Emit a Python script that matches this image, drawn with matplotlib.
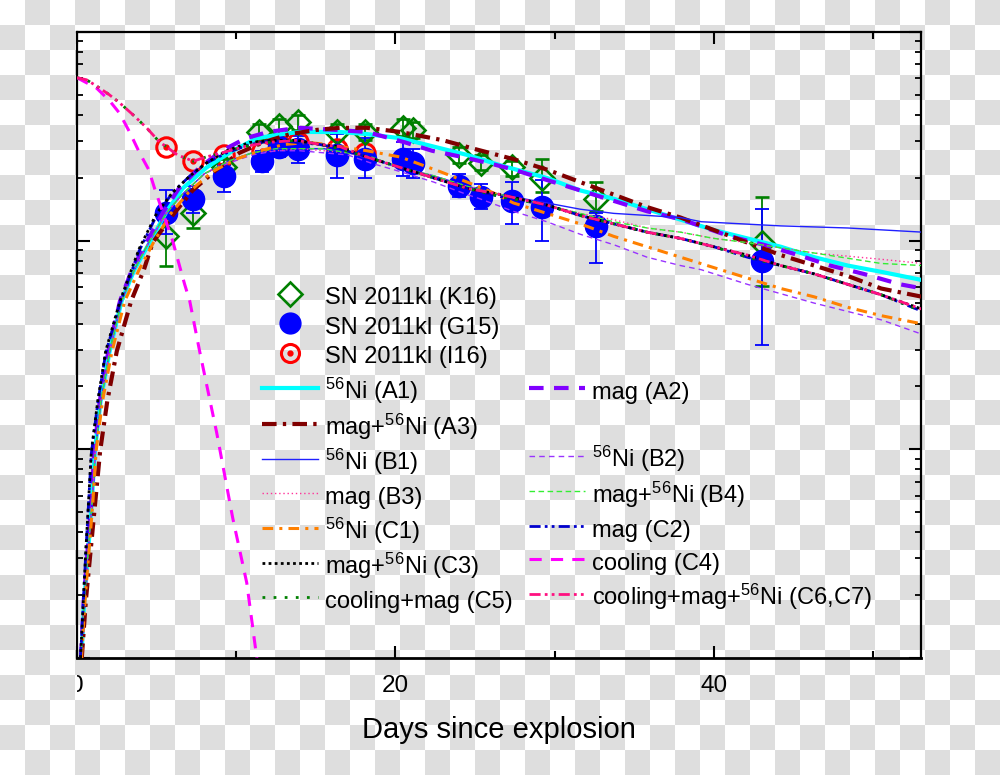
import numpy as np
import matplotlib
matplotlib.use("Agg")
import matplotlib.pyplot as plt
from matplotlib.lines import Line2D
from matplotlib.ticker import LogLocator, NullFormatter
from matplotlib.transforms import Bbox

plt.rcParams['font.family'] = ['Liberation Sans', 'DejaVu Sans']
plt.rcParams['mathtext.default'] = 'regular'

# ---- observed points: day since explosion, log10 L (erg/s) ----
k16_day = [5.6, 7.3, 9.2, 11.4, 12.7, 13.9, 16.3, 18.1, 20.5, 21.1, 24.0, 25.4, 27.3, 29.2, 32.6, 43.0]
k16_log = [43.02, 43.13, 43.35, 43.52, 43.55, 43.57, 43.52, 43.52, 43.54, 43.53, 43.41, 43.37, 43.35, 43.30, 43.20, 42.99]
k16_lo = [42.88, 43.06, 43.29, 43.48, 43.51, 43.53, 43.48, 43.48, 43.50, 43.49, 43.37, 43.34, 43.31, 43.23, 43.14, 42.78]
k16_hi = [43.13, 43.20, 43.39, 43.56, 43.58, 43.60, 43.56, 43.56, 43.58, 43.57, 43.45, 43.41, 43.38, 43.39, 43.28, 43.21]

g15_day = [5.6, 7.3, 9.2, 11.6, 12.7, 13.9, 16.3, 18.1, 20.5, 21.1, 24.0, 25.4, 27.3, 29.2, 32.6, 43.0]
g15_log = [43.13, 43.20, 43.31, 43.38, 43.45, 43.44, 43.41, 43.39, 43.39, 43.37, 43.26, 43.21, 43.19, 43.16, 43.07, 42.90]
g15_lo = [43.03, 43.13, 43.23, 43.33, 43.40, 43.37, 43.30, 43.30, 43.31, 43.30, 43.21, 43.15, 43.08, 43.00, 42.89, 42.50]
g15_hi = [43.24, 43.26, 43.36, 43.43, 43.50, 43.50, 43.51, 43.49, 43.47, 43.44, 43.32, 43.27, 43.28, 43.29, 43.13, 43.15]

i16_day = [5.6, 7.3, 9.2, 11.6, 12.7, 13.9, 16.3, 18.1]
i16_log = [43.45, 43.38, 43.41, 43.43, 43.46, 43.47, 43.44, 43.42]

# ---- model light curves ----
a1_day = [0.28, 0.45, 0.7, 0.93, 1.12, 1.48, 2.05, 2.8, 3.6, 4.56, 5.63, 6.64, 8.14, 9.78, 11.3, 12.9, 14.0, 15.3,
          16.5, 18.2, 20.3, 22.4, 24.5, 26.6, 29.5, 31.6, 33.7, 35.8, 37.9, 40.0, 42.1, 44.2, 46.3, 48.4, 50.5, 53.1]
a1_log = [41.00, 41.27, 41.51, 41.75, 41.99, 42.23, 42.47, 42.71, 42.86, 42.99, 43.14, 43.25, 43.35, 43.43, 43.49, 43.51,
          43.52, 43.52, 43.52, 43.51, 43.49, 43.45, 43.41, 43.36, 43.30, 43.24, 43.20, 43.15, 43.10, 43.05, 43.01, 42.97,
          42.92, 42.88, 42.85, 42.81]

a2_day = [0.25, 0.42, 0.66, 0.9, 1.08, 1.43, 1.97, 2.7, 3.45, 4.35, 5.45, 6.4, 7.7, 9.1, 10.6, 12.0, 13.9, 16.2, 18.2,
          20.6, 22.3, 24.2, 25.9, 27.4, 29.5, 31.6, 33.7, 35.8, 38.0, 41.0, 43.1, 45.3, 47.3, 49.4, 51.7, 53.1]
a2_log = [41.00, 41.27, 41.51, 41.75, 41.99, 42.23, 42.47, 42.71, 42.86, 42.99, 43.14, 43.25, 43.35, 43.43, 43.49, 43.52,
          43.54, 43.53, 43.52, 43.47, 43.43, 43.40, 43.37, 43.34, 43.29, 43.24, 43.19, 43.14, 43.10, 43.02, 42.98, 42.93,
          42.88, 42.84, 42.79, 42.77]

a3_day = [0.3, 0.55, 0.85, 1.15, 1.45, 1.9, 2.5, 3.4, 4.2, 4.75, 6.0, 7.26, 8.77, 10.2, 11.67, 13.4, 15.06, 16.5, 18.2,
          20.3, 23.0, 24.9, 27.4, 29.5, 31.6, 33.7, 35.8, 37.9, 40.0, 42.1, 44.2, 46.3, 48.4, 50.5, 53.1]
a3_log = [41.00, 41.27, 41.51, 41.75, 41.99, 42.23, 42.47, 42.71, 42.86, 42.99, 43.12, 43.24, 43.34, 43.42, 43.47, 43.51,
          43.53, 43.54, 43.54, 43.52, 43.48, 43.44, 43.39, 43.34, 43.28, 43.22, 43.16, 43.11, 43.05, 42.99, 42.93, 42.88,
          42.83, 42.77, 42.73]

b1_day = [0.25, 0.45, 0.7, 0.95, 1.15, 1.5, 2.05, 2.8, 3.6, 4.5, 5.6, 6.6, 8.0, 9.5, 11.0, 12.5, 14.0, 15.5, 17.0, 18.5,
          20.3, 22.4, 24.5, 26.6, 29.5, 31.6, 33.7, 35.8, 37.9, 39.2, 44.2, 48.4, 53.1]
b1_log = [41.00, 41.27, 41.51, 41.75, 41.99, 42.23, 42.47, 42.71, 42.86, 42.99, 43.13, 43.22, 43.32, 43.38, 43.42, 43.44,
          43.44, 43.44, 43.42, 43.39, 43.35, 43.31, 43.26, 43.22, 43.18, 43.15, 43.13, 43.12, 43.11, 43.09, 43.07, 43.06,
          43.04]

b2_day = [0.25, 0.45, 0.7, 0.95, 1.15, 1.5, 2.05, 2.8, 3.6, 4.5, 5.6, 6.6, 8.0, 9.5, 11.0, 12.5, 14.0, 15.5, 17.0, 18.5,
          20.3, 22.4, 24.5, 25.3, 27.4, 29.5, 31.6, 33.7, 35.8, 37.9, 39.2, 42.1, 46.3, 50.5, 53.1]
b2_log = [41.00, 41.27, 41.51, 41.75, 41.99, 42.23, 42.47, 42.71, 42.86, 42.99, 43.13, 43.22, 43.32, 43.37, 43.41, 43.43,
          43.43, 43.42, 43.41, 43.37, 43.33, 43.28, 43.22, 43.20, 43.14, 43.09, 43.03, 42.98, 42.92, 42.88, 42.86, 42.79,
          42.70, 42.62, 42.55]

b3_day = [0.25, 0.45, 0.7, 0.95, 1.15, 1.5, 2.05, 2.8, 3.6, 4.5, 5.6, 6.6, 8.0, 9.5, 11.0, 12.5, 14.0, 15.5, 17.0, 18.5,
          20.3, 22.4, 24.5, 26.6, 29.5, 31.6, 33.7, 35.8, 37.9, 40.0, 42.1, 46.3, 50.5, 53.1]
b3_log = [41.00, 41.27, 41.51, 41.75, 41.99, 42.23, 42.47, 42.71, 42.86, 42.99, 43.13, 43.22, 43.32, 43.38, 43.42, 43.43,
          43.44, 43.43, 43.42, 43.39, 43.35, 43.31, 43.26, 43.22, 43.17, 43.13, 43.10, 43.06, 43.04, 43.01, 42.99, 42.94,
          42.91, 42.89]

b4_day = [0.25, 0.45, 0.7, 0.95, 1.15, 1.5, 2.05, 2.8, 3.6, 4.5, 5.6, 6.6, 8.0, 9.5, 11.0, 12.5, 14.0, 15.5, 17.0, 18.5,
          20.3, 22.4, 24.5, 26.6, 29.5, 31.6, 33.7, 35.8, 37.9, 40.0, 42.1, 46.3, 50.5, 53.1]
b4_log = [41.00, 41.27, 41.51, 41.75, 41.99, 42.23, 42.47, 42.71, 42.86, 42.99, 43.13, 43.22, 43.32, 43.38, 43.42, 43.44,
          43.44, 43.44, 43.42, 43.40, 43.35, 43.31, 43.26, 43.22, 43.17, 43.13, 43.09, 43.06, 43.04, 43.01, 42.99, 42.94,
          42.89, 42.88]

c1_day = [0.28, 0.5, 0.75, 1.0, 1.2, 1.6, 2.2, 3.0, 3.9, 4.8, 5.9, 7.0, 8.5, 10.0, 11.5, 13.0, 14.5, 15.7, 18.2, 20.3,
          22.8, 24.5, 26.1, 27.4, 29.5, 31.6, 33.7, 35.8, 37.9, 40.0, 42.1, 44.2, 46.3, 48.4, 50.5, 53.1]
c1_log = [41.00, 41.27, 41.51, 41.75, 41.99, 42.23, 42.47, 42.71, 42.86, 42.99, 43.13, 43.23, 43.33, 43.39, 43.43, 43.46,
          43.47, 43.46, 43.43, 43.40, 43.33, 43.28, 43.23, 43.18, 43.13, 43.08, 43.02, 42.97, 42.92, 42.87, 42.82, 42.77,
          42.73, 42.68, 42.64, 42.60]

c3_day = [0.22, 0.55, 0.9, 1.3, 1.8, 2.7, 3.9, 5.0, 6.0, 7.1, 8.1, 9.4, 10.85, 12.3, 13.8, 15.25, 16.5, 18.2, 20.3,
          22.4, 24.5, 26.6, 29.5, 31.6, 33.7, 35.8, 37.9, 40.0, 42.1, 44.2, 46.3, 48.4, 50.5, 53.1]
c3_log = [41.00, 41.51, 41.99, 42.23, 42.47, 42.71, 42.96, 43.13, 43.23, 43.31, 43.37, 43.43, 43.47, 43.48, 43.48, 43.46,
          43.45, 43.40, 43.35, 43.30, 43.25, 43.22, 43.17, 43.12, 43.08, 43.04, 43.01, 42.97, 42.93, 42.88, 42.84, 42.79,
          42.74, 42.67]
c2_log = [41.00, 41.50, 41.98, 42.22, 42.46, 42.70, 42.95, 43.12, 43.23, 43.31, 43.37, 43.42, 43.46, 43.48, 43.47, 43.46,
          43.44, 43.40, 43.35, 43.30, 43.25, 43.21, 43.17, 43.12, 43.08, 43.04, 43.01, 42.97, 42.92, 42.88, 42.84, 42.79,
          42.74, 42.66]

c4_day = [0.0, 1.23, 2.04, 2.67, 3.3, 3.93, 4.5, 4.87, 6.0, 6.76, 7.08, 7.7, 8.77, 9.78, 10.66, 11.29, 11.6]
c4_log = [43.78, 43.73, 43.67, 43.61, 43.52, 43.42, 43.34, 43.25, 43.00, 42.79, 42.71, 42.47, 42.08, 41.67, 41.36, 41.00,
          40.80]

c6_day = [0.0, 0.6, 1.23, 2.0, 2.67, 3.55, 4.37, 5.2, 5.6, 6.3, 7.3, 8.1, 9.1, 10.5, 12.0, 13.8, 15.25, 16.5, 18.2,
          20.3, 22.4, 24.5, 26.6, 29.5, 31.6, 33.7, 35.8, 37.9, 40.0, 42.1, 44.2, 46.3, 48.4, 50.5, 53.1]
c6_log = [43.78, 43.77, 43.74, 43.70, 43.66, 43.60, 43.54, 43.47, 43.45, 43.41, 43.38, 43.40, 43.42, 43.45, 43.47, 43.48,
          43.46, 43.45, 43.40, 43.35, 43.30, 43.25, 43.22, 43.17, 43.12, 43.08, 43.04, 43.01, 42.97, 42.93, 42.88, 42.84,
          42.79, 42.74, 42.67]
c5_log = [43.78, 43.77, 43.74, 43.70, 43.66, 43.60, 43.54, 43.47, 43.45, 43.41, 43.38, 43.40, 43.42, 43.45, 43.47, 43.48,
          43.46, 43.44, 43.40, 43.35, 43.30, 43.25, 43.21, 43.17, 43.12, 43.08, 43.04, 43.01, 42.97, 42.92, 42.88, 42.84,
          42.79, 42.74, 42.66]


def lum(v):
    return np.power(10.0, np.asarray(v))


fig = plt.figure(figsize=(10, 7.75), dpi=100)
fig.patch.set_facecolor('white')

# transparent-background checkerboard as in the reference image
yy, xx = np.indices((775, 1000))
checker = ((xx // 25 + yy // 25) % 2).astype(float)
fig.figimage(1.0 - 0.13 * checker, xo=0, yo=0, cmap='gray', vmin=0, vmax=1, zorder=-1, origin='upper')

ax = fig.add_axes([0.077, 0.151, 0.844, 0.808])
ax.set_facecolor('none')
ax.set_yscale('log')

# data points
ax.errorbar(k16_day, lum(k16_log),
            yerr=[lum(k16_log) - lum(k16_lo), lum(k16_hi) - lum(k16_log)],
            fmt='D', ms=12.5, mfc='none', mec='#008000', mew=1.9, ecolor='#008000',
            elinewidth=1.3, capsize=5, capthick=1.3, zorder=2)
ax.errorbar(g15_day, lum(g15_log),
            yerr=[lum(g15_log) - lum(g15_lo), lum(g15_hi) - lum(g15_log)],
            fmt='o', ms=16, color='#0000ff', ecolor='#0000ff',
            elinewidth=1.3, capsize=5, capthick=1.3, zorder=2)
ax.plot(i16_day, lum(i16_log), 'o', ms=14, mfc='none', mec='#ff0000', mew=2.2, zorder=2)
ax.plot(i16_day, lum(i16_log), 'o', ms=3.5, color='#ff0000', zorder=2)

# model curves
lA1, = ax.plot(a1_day, lum(a1_log), color='#00ffff', lw=3, zorder=3)
lA2, = ax.plot(a2_day, lum(a2_log), color='#8000ff', lw=3, ls=(0, (3.5, 2.5)), zorder=3)
lA3, = ax.plot(a3_day, lum(a3_log), color='#800000', lw=3, ls=(0, (3.5, 1.5, 0.8, 1.5)), zorder=3)
lB1, = ax.plot(b1_day, lum(b1_log), color='#2020ff', lw=1.0, zorder=3)
lB2, = ax.plot(b2_day, lum(b2_log), color='#9933ff', lw=1.0, ls=(0, (4, 3)), zorder=3)
lB3, = ax.plot(b3_day, lum(b3_log), color='#ff3399', lw=1.0, ls=(0, (1, 2)), zorder=3)
lB4, = ax.plot(b4_day, lum(b4_log), color='#33ee33', lw=1.0, ls=(0, (4, 2.5)), zorder=3)
lC1, = ax.plot(c1_day, lum(c1_log), color='#ff8000', lw=2.2, ls=(0, (3.5, 2, 1, 2)), zorder=3)
lC2, = ax.plot(c3_day, lum(c2_log), color='#0000cc', lw=2.0, ls=(0, (4, 1.5, 1, 1.5, 1, 1.5)), zorder=3)
lC3, = ax.plot(c3_day, lum(c3_log), color='black', lw=2.0, ls=(0, (1, 1.2)), zorder=3)
lC4, = ax.plot(c4_day, lum(c4_log), color='#ff00ff', lw=2.2, ls=(0, (4, 3)), zorder=3)
lC5, = ax.plot(c6_day, lum(c5_log), color='#008000', lw=2.0, ls=(0, (1, 3)), zorder=3)
lC6, = ax.plot(c6_day, lum(c6_log), color='#ff1080', lw=2.0, ls=(0, (4, 1.5, 1, 1.5, 1, 1.5)), zorder=3)

ax.set_xlim(0, 53)
ax.set_ylim(1e41, 1e44)

ax.set_xticks([0, 20, 40])
ax.set_xticklabels(['0', '20', '40'])
ax.set_xticks([10, 30, 50], minor=True)
ax.yaxis.set_minor_locator(LogLocator(base=10, subs=np.arange(2, 10), numticks=20))
ax.yaxis.set_minor_formatter(NullFormatter())
ax.tick_params(axis='x', which='major', direction='in', length=8.5, width=1.5, top=True,
               labelsize=17.5, pad=12)
ax.tick_params(axis='x', which='minor', direction='in', length=5, width=1.5, top=True)
ax.tick_params(axis='y', which='major', direction='in', length=9, width=1.5, right=True,
               labelleft=False)
ax.tick_params(axis='y', which='minor', direction='in', length=4.5, width=1.3, right=True,
               labelleft=False)
for s in ax.spines.values():
    s.set_linewidth(1.6)
ax.spines['bottom'].set_linewidth(2.0)

ax.set_xlabel('Days since explosion', fontsize=21, labelpad=14)

# the leftmost tick label is cut by the image edge in the reference
lbl0 = ax.xaxis.get_major_ticks()[0].label1
lbl0.set_clip_box(Bbox.from_extents(77, 0, 1000, 775))
lbl0.set_clip_on(True)

# legends
hK = Line2D([], [], marker='D', ls='none', ms=12, mfc='none', mec='#008000', mew=1.9)
hG = Line2D([], [], marker='o', ls='none', ms=15, color='#0000ff')
hI1 = Line2D([], [], marker='o', ls='none', ms=13, mfc='none', mec='#ff0000', mew=2.2)
hI2 = Line2D([], [], marker='o', ls='none', ms=3.5, color='#ff0000')
leg1 = ax.legend([hK, hG, (hI1, hI2)],
                 ['SN 2011kl (K16)', 'SN 2011kl (G15)', 'SN 2011kl (I16)'],
                 loc='upper left', bbox_to_anchor=(0.262, 1 - 284 / 775), bbox_transform=fig.transFigure,
                 frameon=False, fontsize=17, handlelength=2.37, handletextpad=0.3,
                 handleheight=1.23, labelspacing=0.17, borderpad=0, borderaxespad=0)
ax.add_artist(leg1)

blank = Line2D([], [], ls='none')
handles = [lA1, lA3, lB1, lB3, lC1, lC3, lC5,
           lA2, blank, lB2, lB4, lC2, lC4, lC6]
labels = ['$^{56}$Ni (A1)', 'mag+$^{56}$Ni (A3)', '$^{56}$Ni (B1)', 'mag (B3)',
          '$^{56}$Ni (C1)', 'mag+$^{56}$Ni (C3)', 'cooling+mag (C5)',
          'mag (A2)', '', '$^{56}$Ni (B2)', 'mag+$^{56}$Ni (B4)', 'mag (C2)',
          'cooling (C4)', 'cooling+mag+$^{56}$Ni (C6,C7)']
ax.legend(handles, labels, ncol=2,
          loc='upper left', bbox_to_anchor=(0.262, 1 - 376 / 775), bbox_transform=fig.transFigure,
          frameon=False, fontsize=17, handlelength=2.37, handletextpad=0.3,
          handleheight=1.46, labelspacing=0.22, columnspacing=0.68, borderpad=0, borderaxespad=0)

fig.savefig('out.png', dpi=100)
